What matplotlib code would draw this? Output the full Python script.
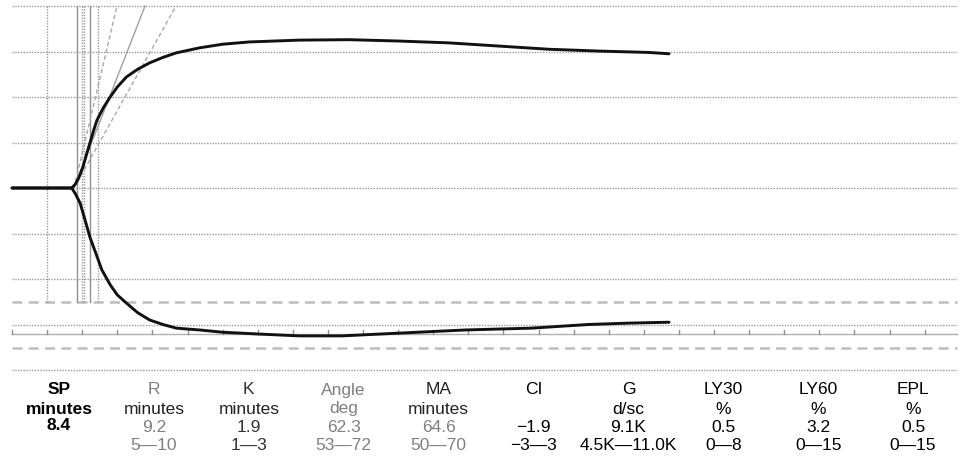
import matplotlib
matplotlib.use("Agg")
import matplotlib.pyplot as plt
import numpy as np

# ---- data ----
upper_t = [0, 8.5, 9.0, 9.5, 10.1, 10.6, 11.1, 11.6, 12.1, 13.0, 13.9, 15.0, 16.3, 17.9, 19.6,
           21.5, 23.4, 26.7, 30.0, 33.8, 40.9, 48.0, 55.1, 62.2, 69.3, 76.4, 83.5, 90.6, 93.6]
upper_a = [0, 0, 0.8, 2.2, 4.6, 7.3, 9.9, 12.5, 14.9, 17.6, 19.8, 22.2, 24.4, 26.1, 27.5,
           28.7, 29.7, 30.8, 31.6, 32.1, 32.5, 32.6, 32.3, 31.9, 31.2, 30.5, 30.1, 29.8, 29.5]
lower_t = [0, 8.5, 9.0, 9.7, 10.4, 11.1, 12.0, 12.8, 14.0, 15.0, 16.3, 17.9, 19.6, 21.5, 23.4,
           26.7, 30.0, 35.2, 40.9, 47.0, 55.1, 64.6, 74.0, 82.1, 87.8, 93.6]
lower_a = [0, 0, -1.2, -3.3, -7.0, -10.8, -14.6, -18.0, -21.3, -23.5, -25.3, -27.4, -29.0, -30.0, -30.8,
           -31.2, -31.7, -32.1, -32.5, -32.5, -31.9, -31.2, -30.8, -30.0, -29.7, -29.5]

SP, R, K = 8.4, 9.2, 1.9
r_norm = [5, 10]
k_norm = [R + 1, R + 3]
angle_start = 8.83
angle_ends = {"solid": 18.95, "low": 14.96, "high": 23.36}

labels = ["SP", "R", "K", "Angle", "MA", "CI", "G", "LY30", "LY60", "EPL"]
units = ["minutes", "minutes", "minutes", "deg", "minutes", "", "d/sc", "%", "%", "%"]
values = ["8.4", "9.2", "1.9", "62.3", "64.6", "\u22121.9", "9.1K", "0.5", "3.2", "0.5"]
ranges = ["", "5\u201410", "1\u20143", "53\u201472", "50\u201470", "\u22123\u20143",
          "4.5K\u201411.0K", "0\u20148", "0\u201415", "0\u201415"]
head_colors = ["#000000", "#808080", "#333333", "#808080", "#222222",
               "#000000", "#000000", "#000000", "#000000", "#000000"]
unit_colors = ["#000000", "#222222", "#222222", "#808080", "#222222",
               "#000000", "#000000", "#000000", "#000000", "#000000"]
val_colors = ["#000000", "#808080", "#333333", "#808080", "#808080",
              "#000000", "#000000", "#000000", "#000000", "#000000"]

W, H = 963, 458
PX_MIN = 7.02
X0 = 12
PX_MM = 4.55
Y0 = 188

fig = plt.figure(figsize=(W / 100, H / 100), dpi=100)
ax = fig.add_axes([0, 0, 1, 1])
ax.set_xlim(-X0 / PX_MIN, (W - X0) / PX_MIN)
ax.set_ylim((Y0 - H) / PX_MM, Y0 / PX_MM)
ax.axis("off")

tmax = 134.6
grid_col = "#9a9a9a"
for yv in [40, 30, 20, 10, 0, -10, -20, -30, -40]:
    ax.plot([0, tmax], [yv, yv], color=grid_col, lw=1.0, ls=(0, (1, 1)), zorder=1)
for yv in [-25, -35.2]:
    ax.plot([0, tmax], [yv, yv], color="#bdbdbd", lw=1.8, ls=(0, (4, 2.5)), zorder=1)

# axis line with ticks
ax.plot([0, tmax], [-32, -32], color="#b0b0b0", lw=1.0, zorder=1)
for tk in np.arange(0, 131, 5):
    ax.plot([tk, tk], [-32, -31.3], color="#909090", lw=1.0, zorder=1)

# vertical markers
for xv in [r_norm[0], r_norm[1], k_norm[0], k_norm[1]]:
    ax.plot([xv, xv], [40, -25], color=grid_col, lw=1.0, ls=(0, (1, 1)), zorder=1)
for xv in [R, R + K]:
    ax.plot([xv, xv], [40, -25], color="#909090", lw=1.0, zorder=1)

# angle lines
ax.plot([angle_start, angle_ends["solid"]], [0, 40], color="#a0a0a0", lw=1.0, zorder=2)
ax.plot([angle_start, angle_ends["low"]], [0, 40], color="#a8a8a8", lw=1.0, ls=(0, (3, 2)), zorder=2)
ax.plot([angle_start, angle_ends["high"]], [0, 40], color="#a8a8a8", lw=1.0, ls=(0, (3, 2)), zorder=2)

# trace
ax.plot(upper_t, upper_a, color="#111111", lw=2.1, solid_capstyle="round", solid_joinstyle="round", zorder=3)
ax.plot(lower_t, lower_a, color="#111111", lw=2.1, solid_capstyle="round", solid_joinstyle="round", zorder=3)

fam = ["Liberation Sans", "DejaVu Sans"]
fs = 12.5
rows_y = [390, 409, 427, 446]
for i in range(len(labels)):
    xc = (59 + 94.9 * i) / W
    wt = "bold" if i == 0 else "normal"
    fig.text(xc, 1 - rows_y[0] / H, labels[i], ha="center", va="center", fontsize=fs,
             family=fam, color=head_colors[i], weight=wt)
    if units[i]:
        fig.text(xc, 1 - rows_y[1] / H, units[i], ha="center", va="center", fontsize=fs,
                 family=fam, color=unit_colors[i], weight=wt)
    if i == 0:
        fig.text(xc, 1 - (rows_y[2] - 2) / H, values[i], ha="center", va="center", fontsize=fs,
                 family=fam, color=val_colors[i], weight=wt)
    else:
        fig.text(xc, 1 - rows_y[2] / H, values[i], ha="center", va="center", fontsize=fs,
                 family=fam, color=val_colors[i])
    if ranges[i]:
        fig.text(xc, 1 - rows_y[3] / H, ranges[i], ha="center", va="center", fontsize=fs,
                 family=fam, color=val_colors[i])

fig.savefig("out.png", dpi=100)
